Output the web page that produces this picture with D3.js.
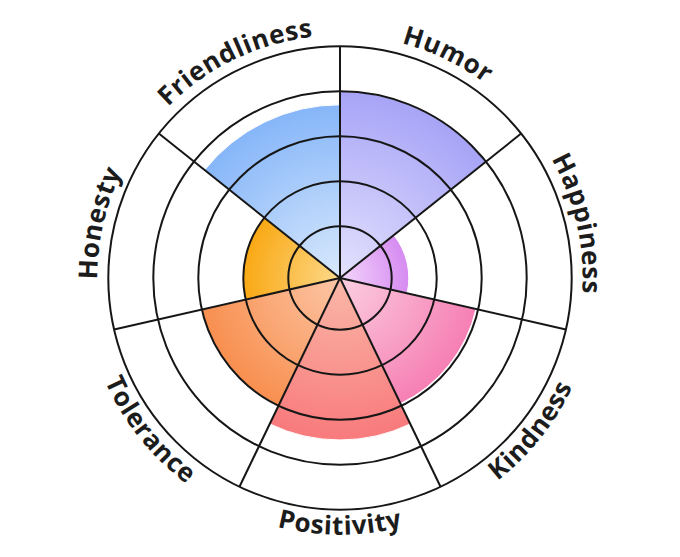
<!DOCTYPE html>
<html lang="en">
<head>
<meta charset="UTF-8">
<title>Personality wheel</title>
<style>
    body { margin: 0; background: #fff; }
    .label { font: 700 26px "Open Sans", sans-serif; letter-spacing: 0.6px; fill: #1c1c1c; }
</style>
</head>
<body>
<div id="chart"></div>
<script src="https://cdnjs.cloudflare.com/ajax/libs/d3/7.8.5/d3.min.js"></script>
<script>
    // data (value scale 0..5, rings at each whole step)
    const categories = ["Humor", "Happiness", "Kindness", "Positivity", "Tolerance", "Honesty", "Friendliness"];
    const values = [4.0, 1.38, 2.95, 3.45, 3.0, 2.02, 3.7];
    const ringLevels = [1, 2, 3, 4, 5];
    const innerColors = ["#e4e2fd", "#f3d6fb", "#fbcfe0", "#fab8a8", "#fcc6a6", "#fdd98a", "#d9e9fc"];
    const outerColors = ["#a7a4f7", "#d68bf1", "#f67fb4", "#f87a7c", "#f88f4f", "#f9a813", "#86b6f9"];

    var width = 680, height = 557,
        cx = 340, cy = 278;

    var svg = d3.select("#chart").append("svg")
        .attr("width", width)
        .attr("height", height);

    var defs = svg.append("defs");

    var g = svg.append("g")
        .attr("transform", "translate(" + cx + "," + cy + ")");

    var r = d3.scaleLinear().domain([0, 5]).range([6.7, 231.7]);

    var angle = d3.scaleBand()
        .domain(categories)
        .range([0, 2 * Math.PI])
        .padding(0);

    var data = categories.map((c, i) => ({ name: c, value: values[i], i: i }));

    // gradient per slice, light at centre, saturated at the rim
    data.forEach(d => {
        var grad = defs.append("radialGradient")
            .attr("id", "grad" + d.i)
            .attr("gradientUnits", "userSpaceOnUse")
            .attr("cx", 0).attr("cy", 0)
            .attr("r", r(d.value));
        grad.append("stop").attr("offset", "0%").attr("stop-color", innerColors[d.i]);
        grad.append("stop").attr("offset", "100%").attr("stop-color", outerColors[d.i]);
    });

    var arc = d3.arc()
        .innerRadius(0)
        .outerRadius(d => r(d.value))
        .startAngle(d => angle(d.name))
        .endAngle(d => angle(d.name) + angle.bandwidth());

    g.selectAll("path.bar")
        .data(data)
        .enter().append("path")
        .attr("class", "bar")
        .attr("fill", d => "url(#grad" + d.i + ")")
        .attr("stroke", "#fff")
        .attr("stroke-width", 1)
        .attr("d", arc);

    // rings
    g.selectAll("circle.ring")
        .data(ringLevels)
        .enter().append("circle")
        .attr("class", "ring")
        .attr("r", d => r(d))
        .attr("fill", "none")
        .attr("stroke", "#161616")
        .attr("stroke-width", 2);

    // spokes
    var rMax = r(d3.max(ringLevels));
    g.selectAll("line.spoke")
        .data(categories)
        .enter().append("line")
        .attr("class", "spoke")
        .attr("x1", 0).attr("y1", 0)
        .attr("x2", d => rMax * Math.sin(angle(d)))
        .attr("y2", d => -rMax * Math.cos(angle(d)))
        .attr("stroke", "#161616")
        .attr("stroke-width", 2);

    // curved labels
    function pt(a, rad) {
        return [rad * Math.sin(a), -rad * Math.cos(a)];
    }
    var span = Math.PI / 3;
    data.forEach(d => {
        var mid = angle(d.name) + angle.bandwidth() / 2;
        var flip = mid > Math.PI / 2 && mid < 3 * Math.PI / 2;
        var rad = flip ? rMax + 25 : rMax + 11;
        var p0, p1, sweep;
        if (flip) {
            p0 = pt(mid + span, rad); p1 = pt(mid - span, rad); sweep = 0;
        } else {
            p0 = pt(mid - span, rad); p1 = pt(mid + span, rad); sweep = 1;
        }
        defs.append("path")
            .attr("id", "lp" + d.i)
            .attr("d", "M" + p0[0] + "," + p0[1] + " A" + rad + "," + rad + " 0 0 " + sweep + " " + p1[0] + "," + p1[1]);

        g.append("text")
            .attr("class", "label")
            .append("textPath")
            .attr("href", "#lp" + d.i)
            .attr("startOffset", "50%")
            .attr("text-anchor", "middle")
            .text(d.name);
    });
</script>
</body>
</html>
